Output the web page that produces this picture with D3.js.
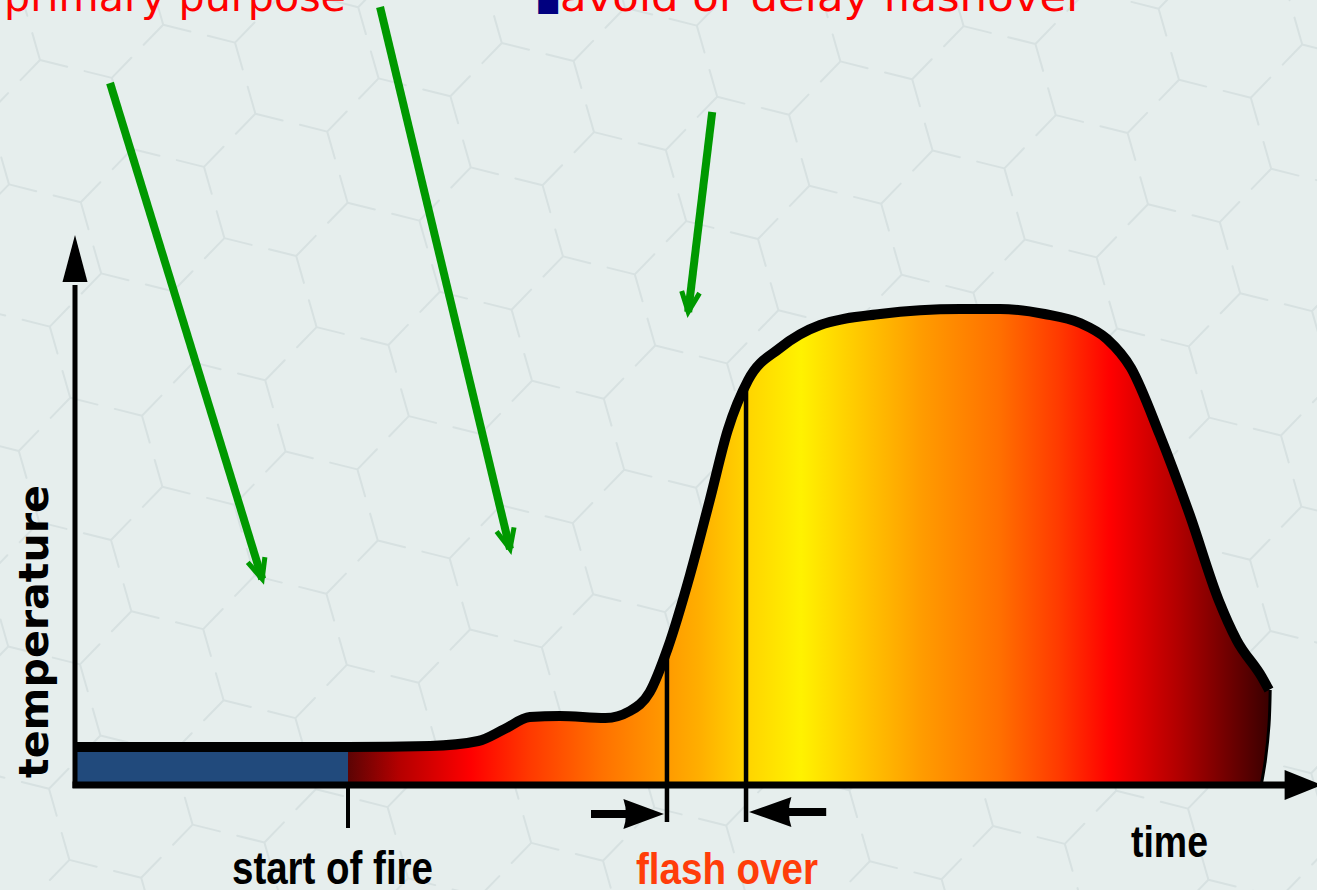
<!DOCTYPE html>
<html>
<head>
<meta charset="utf-8">
<script src="https://cdn.jsdelivr.net/npm/d3@7/dist/d3.min.js"></script>
<style>
  html, body { margin: 0; padding: 0; background: #e6eeed; overflow: hidden; }
  svg { display: block; }
</style>
</head>
<body>
<svg id="chart" width="1317" height="890"></svg>
<script>
// ---------------- DATA ----------------
// fire development curve (time 0..100, temperature 0..100, arbitrary units)
const curveTime = [0, 22.75, 29.6, 33.6, 35.8, 37.9, 40.4, 44.2, 46.25, 47.9, 49.4, 51.25, 52.9, 54.4, 56.1, 58.75, 62.1, 67.1, 73.75, 77.1, 80.8, 83.75, 86.0, 88.0, 90.4, 92.9, 95.3, 96.8, 98.9, 99.5];
const curveTemp = [7.6, 7.6, 7.8, 8.8, 11.2, 13.6, 13.8, 13.4, 14.8, 18.6, 27.4, 42, 57, 71, 81, 87.4, 92, 94.2, 95.2, 95.2, 94.2, 92.4, 89.2, 83.4, 70, 54, 37, 29, 21.6, 19];
// right edge where the fire decays back to the baseline
const edgeTime = [99.6, 99.5, 99.2, 98.85];
const edgeTemp = [19, 12, 5, 0];

// phases
const startOfFire = 22.75;
const flashOverTimes = [49.33, 55.92];

// colour ramp of the fire (time position, colour)
const rampTime  = [22.75, 27, 33, 38, 44, 49, 52, 56, 60.5, 64.5, 70.5, 77, 82, 86.3, 92, 99.5];
const rampColor = ["#5c0404", "#b40000", "#ff0000", "#ff3a00", "#ff7200", "#ff9800", "#ffae00", "#ffd400", "#fff200", "#ffcf00", "#ff9c00", "#ff7000", "#ff3a00", "#ff0000", "#b00000", "#3a0000"];
const preFireColor = "#214a7c";

// labels
const titleLeft  = "primary purpose";
const titleRight = "avoid or delay flashover";
const yLabel = "temperature";
const xLabel = "time";
const labelStart = "start of fire";
const labelFlash = "flash over";

// green annotation arrows: [t0, T0, t1, T1]
const arrowStartT = [2.92, 25.42, 53.1];
const arrowStartV = [140.4, 155.6, 134.6];
const arrowEndT   = [15.6, 36.25, 51.1];
const arrowEndV   = [41.2, 47.2, 94.6];

// ---------------- SCALES ----------------
const svg = d3.select("#chart");
const W = 1317, H = 890;
const x = d3.scaleLinear().domain([0, 100]).range([75, 1275]);
const y = d3.scaleLinear().domain([0, 100]).range([785, 285]);

// ---------------- BACKGROUND ----------------
svg.append("rect").attr("width", W).attr("height", H).attr("fill", "#e6eeed");

// faint honeycomb "Y" texture
(function texture() {
  const g = svg.append("g").attr("stroke", "#d7e1e1").attr("stroke-width", 2).attr("fill", "none")
    .attr("stroke-linecap", "round");
  const s = 74, arm = 28, th = -16 * Math.PI / 180;
  const rot = (px, py) => [px * Math.cos(th) - py * Math.sin(th), px * Math.sin(th) + py * Math.cos(th)];
  const a1 = [s * Math.sqrt(3), 0], a2 = [s * Math.sqrt(3) / 2, -1.5 * s];
  const dirsA = [[0, -1], [-Math.sqrt(3) / 2, 0.5], [Math.sqrt(3) / 2, 0.5]];
  const dirsB = [[0, 1], [-Math.sqrt(3) / 2, -0.5], [Math.sqrt(3) / 2, -0.5]];
  let d = "";
  for (let i = -20; i <= 20; i++) {
    for (let j = -20; j <= 20; j++) {
      const px = i * a1[0] + j * a2[0], py = i * a1[1] + j * a2[1];
      [[px, py, dirsA], [px, py - s, dirsB]].forEach(([qx, qy, dirs]) => {
        const [cx, cy] = rot(qx, qy);
        const X = cx + 40, Y = cy + 60;
        if (X < -40 || X > W + 40 || Y < -40 || Y > H + 40) return;
        dirs.forEach(([dx, dy]) => {
          const [rx, ry] = rot(dx, dy);
          d += `M${X.toFixed(1)},${Y.toFixed(1)}l${(rx * arm).toFixed(1)},${(ry * arm).toFixed(1)}`;
        });
      });
    }
  }
  g.append("path").attr("d", d);
})();

// ---------------- GRADIENT ----------------
const defs = svg.append("defs");
const grad = defs.append("linearGradient").attr("id", "fire")
  .attr("gradientUnits", "userSpaceOnUse")
  .attr("x1", x(0)).attr("x2", x(100)).attr("y1", 0).attr("y2", 0);
const off = t => (t / 100);
grad.append("stop").attr("offset", 0).attr("stop-color", preFireColor);
grad.append("stop").attr("offset", off(startOfFire)).attr("stop-color", preFireColor);
rampTime.forEach((t, i) => grad.append("stop").attr("offset", off(t)).attr("stop-color", rampColor[i]));

// ---------------- FIRE AREA ----------------
const curvePts = curveTime.map((t, i) => [x(t), y(curveTemp[i])]);
const edgePts = edgeTime.map((t, i) => [x(t), y(edgeTemp[i])]);
const smooth = d3.line().curve(d3.curveMonotoneX);
const smoothEdge = d3.line().curve(d3.curveCatmullRom.alpha(0.5));
const topPath = smooth(curvePts);
const edgePath = smoothEdge(edgePts);
const areaPath = topPath + "L" + edgePath.slice(1) + `L${x(0)},${y(0)}Z`;

svg.append("path").attr("d", areaPath).attr("fill", "url(#fire)");

// clip for flashover lines: inside area + below axis
const clip = defs.append("clipPath").attr("id", "flashClip");
clip.append("path").attr("d", areaPath);
clip.append("rect").attr("x", 0).attr("y", y(0)).attr("width", W).attr("height", H - y(0));

const flashG = svg.append("g").attr("clip-path", "url(#flashClip)");
flashOverTimes.forEach(t => {
  flashG.append("line")
    .attr("x1", x(t)).attr("x2", x(t))
    .attr("y1", y(100)).attr("y2", y(-7.4))
    .attr("stroke", "#000").attr("stroke-width", 4.5);
});

// curve outline
svg.append("path").attr("d", topPath).attr("fill", "none")
  .attr("stroke", "#000").attr("stroke-width", 10).attr("stroke-linejoin", "round");
svg.append("path").attr("d", edgePath).attr("fill", "none")
  .attr("stroke", "#000").attr("stroke-width", 3);

// ---------------- AXES ----------------
const axisG = svg.append("g").attr("fill", "#000").attr("stroke", "#000");
// y axis
axisG.append("line").attr("x1", x(0)).attr("x2", x(0)).attr("y1", y(0) + 3).attr("y2", y(100))
  .attr("stroke-width", 5);
axisG.append("path").attr("stroke", "none").attr("d",
  `M${x(0)},${y(110)} L${x(0) + 12.5},${y(100.6)} L${x(0) - 12.5},${y(100.6)} Z`);
// x axis
axisG.append("line").attr("x1", x(0) - 2.5).attr("x2", x(101)).attr("y1", y(0)).attr("y2", y(0))
  .attr("stroke-width", 7);
axisG.append("path").attr("stroke", "none").attr("d",
  `M${x(103.9)},${y(0)} L${x(100.8)},${y(0) - 15} L${x(100.8)},${y(0) + 15} Z`);

// start of fire tick
axisG.append("line").attr("x1", x(startOfFire)).attr("x2", x(startOfFire))
  .attr("y1", y(0)).attr("y2", y(-8.6)).attr("stroke-width", 4);

// flashover interval arrows
(function intervalArrows() {
  const g = svg.append("g");
  const [tA, tB] = flashOverTimes;
  // right-pointing arrow ending at the first line
  const yA = y(-5.8);
  g.append("line").attr("x1", x(43.0)).attr("x2", x(46)).attr("y1", yA).attr("y2", yA)
    .attr("stroke", "#000").attr("stroke-width", 8);
  const tipA = x(tA) - 3, baseA = x(45.7);
  g.append("path").attr("fill", "#000")
    .attr("d", `M ${tipA} ${yA} L ${baseA} ${yA - 15} Q ${baseA + 5} ${yA} ${baseA} ${yA + 15} Z`);
  // left-pointing arrow ending at the second line
  const yB = y(-5.4);
  g.append("line").attr("x1", x(62.6)).attr("x2", x(59.3)).attr("y1", yB).attr("y2", yB)
    .attr("stroke", "#000").attr("stroke-width", 8);
  const tipB = x(tB) + 3, baseB = x(59.7);
  g.append("path").attr("fill", "#000")
    .attr("d", `M ${tipB} ${yB} L ${baseB} ${yB - 15} Q ${baseB - 5} ${yB} ${baseB} ${yB + 15} Z`);
})();

// ---------------- GREEN ANNOTATION ARROWS ----------------
(function greenArrows() {
  const g = svg.append("g").attr("stroke", "#009900").attr("fill", "none");
  arrowStartT.forEach((t0, i) => {
    const X0 = x(t0), Y0 = y(arrowStartV[i]);
    const X1 = x(arrowEndT[i]), Y1 = y(arrowEndV[i]);
    g.append("line").attr("x1", X0).attr("y1", Y0).attr("x2", X1).attr("y2", Y1)
      .attr("stroke-width", 8);
    const ang = Math.atan2(Y1 - Y0, X1 - X0);
    const L = 22, spread = 0.42;
    const p1 = [X1 - L * Math.cos(ang - spread), Y1 - L * Math.sin(ang - spread)];
    const p2 = [X1 - L * Math.cos(ang + spread), Y1 - L * Math.sin(ang + spread)];
    g.append("path").attr("stroke-width", 5).attr("stroke-linejoin", "miter")
      .attr("d", `M ${p1[0]} ${p1[1]} L ${X1} ${Y1} L ${p2[0]} ${p2[1]}`);
  });
})();

// ---------------- TEXT ----------------
const narrow = "'Liberation Sans Narrow', 'Arial Narrow', 'Liberation Sans', Arial, sans-serif";
svg.append("text").attr("x", 4).attr("y", 11)
  .attr("font-family", "'DejaVu Sans', Verdana, sans-serif").attr("font-size", 41)
  .attr("fill", "#ff0000").attr("textLength", 342).attr("lengthAdjust", "spacingAndGlyphs")
  .text(titleLeft);
const tr = svg.append("text").attr("x", 536).attr("y", 11)
  .attr("font-family", "'DejaVu Sans', Verdana, sans-serif").attr("font-size", 41);
tr.append("tspan").attr("fill", "#00007f").attr("font-size", 26).text("\u25A0");
tr.append("tspan").attr("fill", "#ff0000").attr("x", 560)
  .attr("textLength", 524).attr("lengthAdjust", "spacingAndGlyphs").text(titleRight);

svg.append("text")
  .attr("transform", `translate(48,${(485 + 778) / 2}) rotate(-90)`)
  .attr("text-anchor", "middle")
  .attr("font-family", "'DejaVu Sans', Verdana, sans-serif").attr("font-weight", "bold")
  .attr("font-size", 40).attr("fill", "#000")
  .attr("textLength", 293).attr("lengthAdjust", "spacingAndGlyphs")
  .text(yLabel);

svg.append("text").attr("x", 232).attr("y", 884)
  .attr("font-family", narrow).attr("font-weight", "bold").attr("font-size", 46)
  .attr("fill", "#000").attr("textLength", 201).attr("lengthAdjust", "spacingAndGlyphs")
  .text(labelStart);
svg.append("text").attr("x", 636).attr("y", 884)
  .attr("font-family", narrow).attr("font-weight", "bold").attr("font-size", 45)
  .attr("fill", "#ff3d0a").attr("textLength", 182).attr("lengthAdjust", "spacingAndGlyphs")
  .text(labelFlash);
svg.append("text").attr("x", 1131).attr("y", 857)
  .attr("font-family", narrow).attr("font-weight", "bold").attr("font-size", 45)
  .attr("fill", "#000").attr("textLength", 77).attr("lengthAdjust", "spacingAndGlyphs")
  .text(xLabel);
</script>
</body>
</html>
